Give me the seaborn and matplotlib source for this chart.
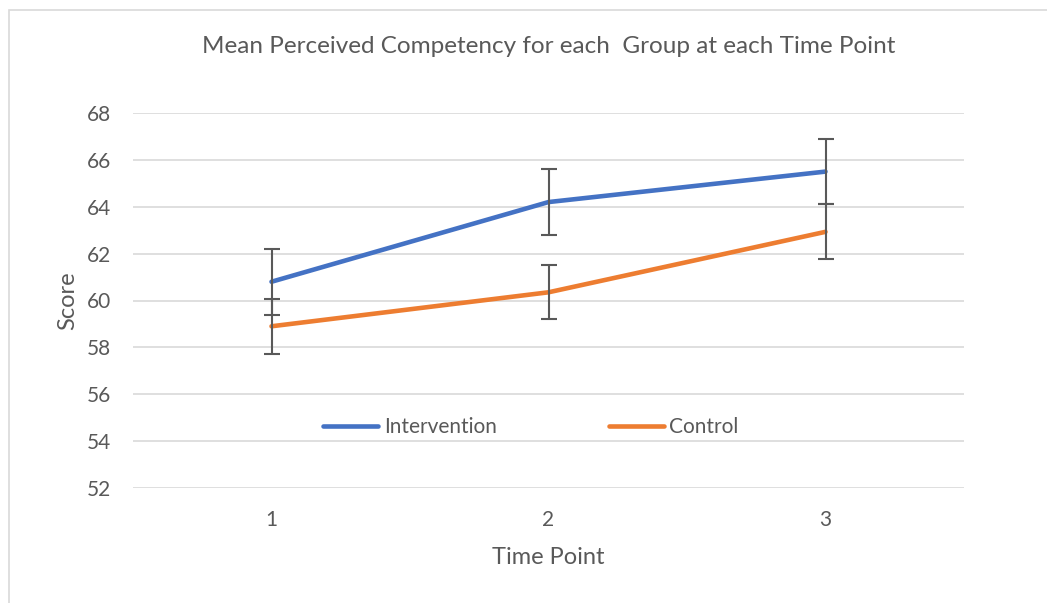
import matplotlib
matplotlib.use("Agg")
import matplotlib.pyplot as plt
import pandas as pd
import seaborn as sns

time_points = [1, 2, 3]
intervention_mean = [60.8, 64.2, 65.5]
control_mean = [58.9, 60.35, 62.93]
intervention_err = [1.4, 1.42, 1.4]
control_err = [1.17, 1.15, 1.17]
groups = ["Intervention", "Control"]

sns.set_theme(style="white")
plt.rcParams["font.family"] = ["Lato", "DejaVu Sans"]

grey = "#595959"
colors = {"Intervention": "#4472C4", "Control": "#ED7D31"}

df = pd.DataFrame({
    "Time Point": time_points * 2,
    "Score": intervention_mean + control_mean,
    "Group": [groups[0]] * 3 + [groups[1]] * 3,
})

fig = plt.figure(figsize=(10.47, 6.03), dpi=100)
ax = fig.add_axes([133 / 1047, 1 - 488 / 603, 831 / 1047, 375 / 603])

# chart frame like the office chart border
fig.patches.append(plt.Rectangle((9 / 1047, -0.1), 1.2, 1 - 10 / 603 + 0.1,
                                 transform=fig.transFigure, fill=False,
                                 edgecolor="#d9d9d9", linewidth=1.2))

sns.lineplot(data=df, x="Time Point", y="Score", hue="Group", palette=colors,
             linewidth=3.3, ax=ax, zorder=3)
for c in ax.lines:
    c.set_solid_capstyle("round")

ax.errorbar(time_points, intervention_mean, yerr=intervention_err, fmt="none",
            ecolor=grey, elinewidth=1.5, capsize=6, capthick=1.5, zorder=4)
ax.errorbar(time_points, control_mean, yerr=control_err, fmt="none",
            ecolor=grey, elinewidth=1.5, capsize=6, capthick=1.5, zorder=4)

ax.set_xlim(0.5, 3.5)
ax.set_ylim(52, 68)
ax.set_yticks(range(52, 69, 2))
ax.set_xticks(time_points)
ax.yaxis.grid(True, color="#d9d9d9", linewidth=1.2)
for s in ax.spines.values():
    s.set_visible(False)
ax.tick_params(axis="both", length=0, labelsize=15, labelcolor=grey)
ax.tick_params(axis="y", pad=16)
ax.tick_params(axis="x", pad=16)

ax.set_title("Mean Perceived Competency for each  Group at each Time Point",
             fontsize=17.5, color=grey, pad=43)
ax.set_xlabel("Time Point", fontsize=17, color=grey, labelpad=12)
ax.set_ylabel("Score", fontsize=17, color=grey, labelpad=6)

ax.legend(loc="center", bbox_to_anchor=(0.479, 0.163), ncol=2, frameon=False,
          fontsize=15, labelcolor=grey, handlelength=2.65, handletextpad=0.25,
          columnspacing=5.4)

fig.savefig("out.png", dpi=100)
